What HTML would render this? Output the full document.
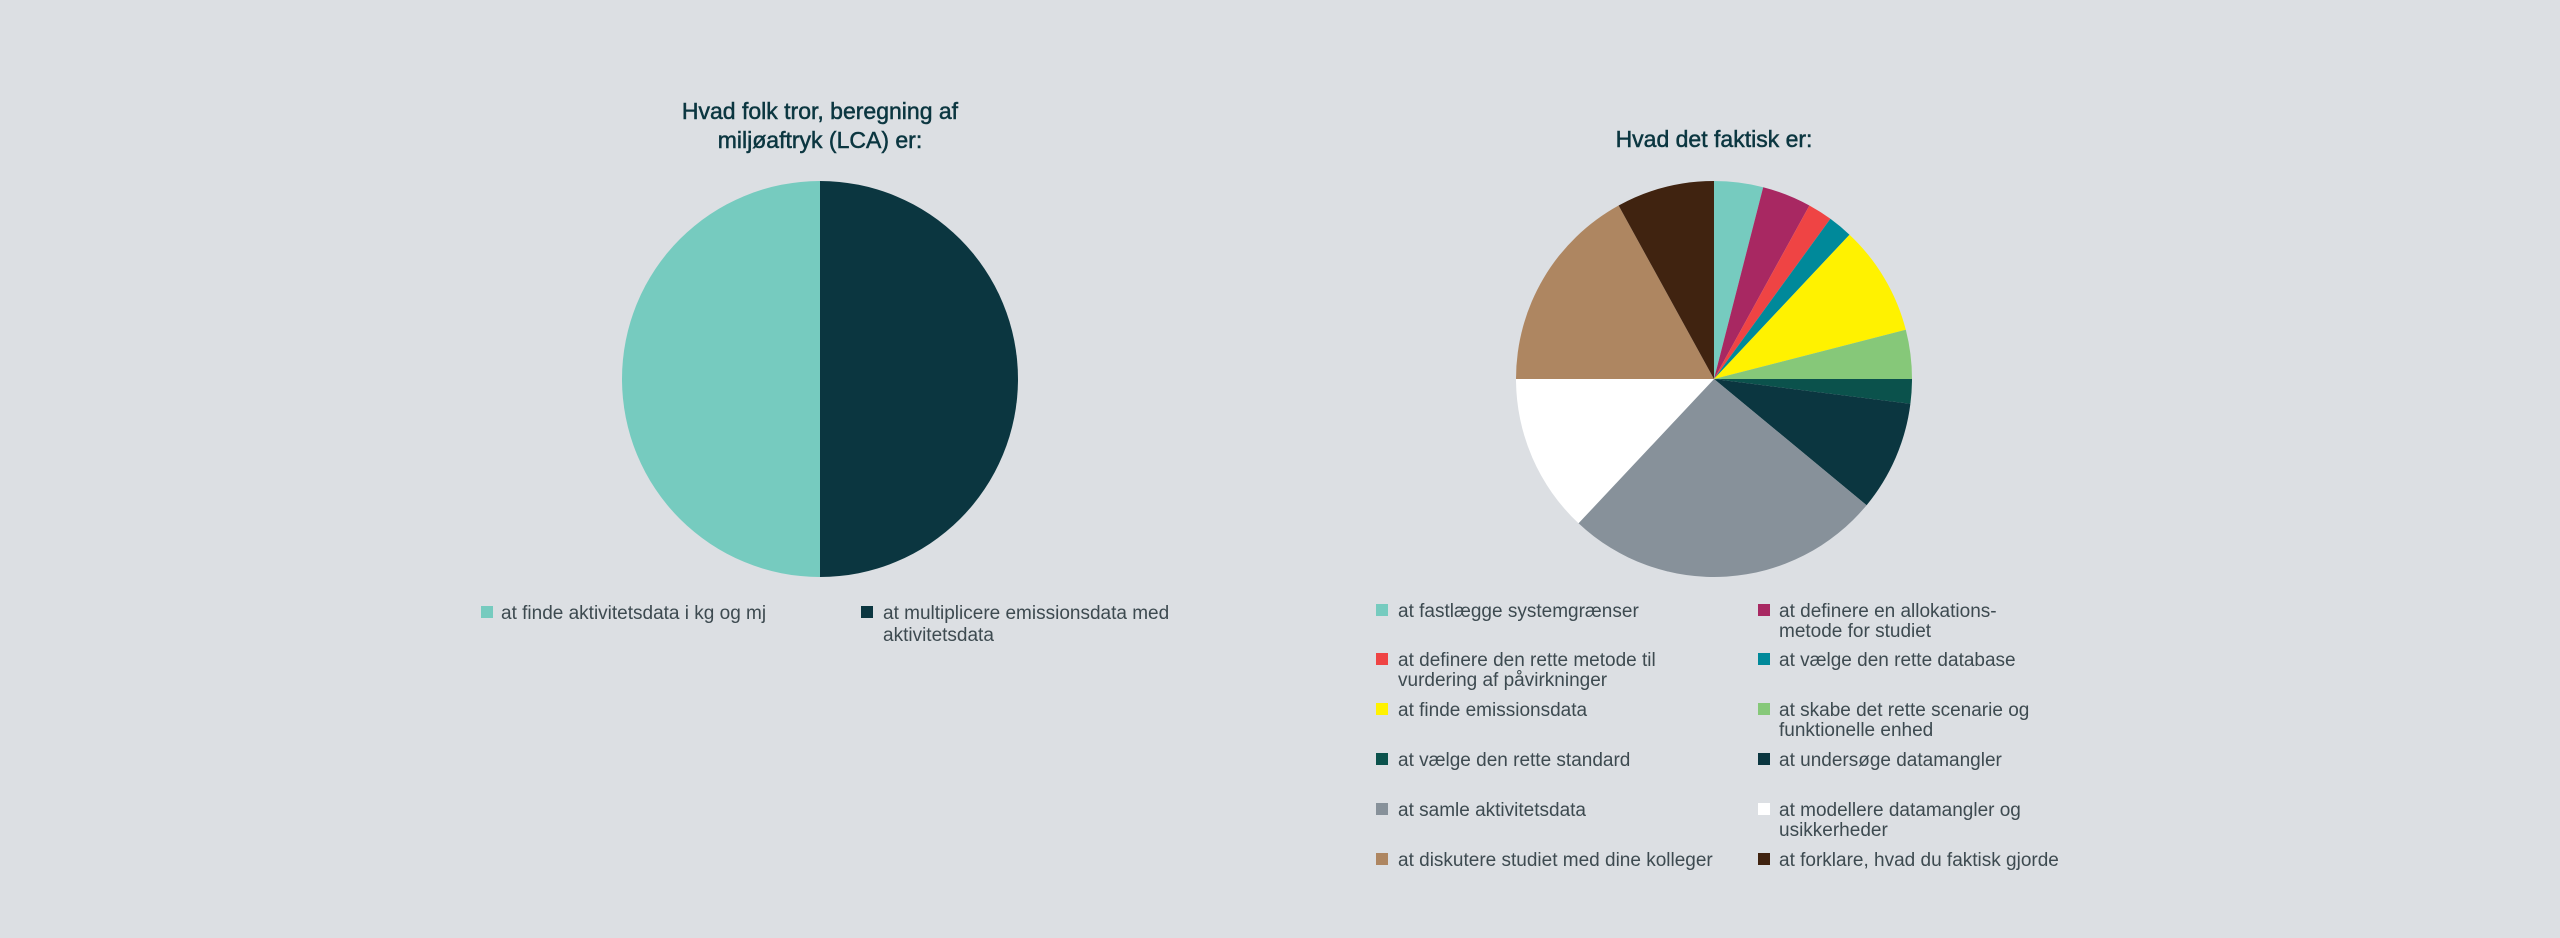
<!DOCTYPE html>
<html><head><meta charset="utf-8"><style>
html,body{margin:0;padding:0;background:#dcdfe3;}
svg{display:block;}
.t{font-family:"Liberation Sans",sans-serif;font-size:23px;fill:#0b3640;stroke:#0b3640;stroke-width:0.5px;text-anchor:middle;}
.l{font-family:"Liberation Sans",sans-serif;font-size:19px;fill:#3d4a50;}
</style></head><body>
<svg width="2560" height="938" viewBox="0 0 2560 938" xmlns="http://www.w3.org/2000/svg">
<rect width="2560" height="938" fill="#dcdfe3"/>
<text class="t" x="820" y="119">Hvad folk tror, beregning af</text>
<text class="t" x="820" y="148">miljøaftryk (LCA) er:</text>
<path d="M820,379 L820,181 A198,198 0 0,1 820,577 Z" fill="#0b3640"/>
<path d="M820,379 L820,577 A198,198 0 0,1 820,181 Z" fill="#76cbbf"/>
<rect x="481" y="606" width="12" height="12" fill="#76cbbf"/>
<text class="l" x="501" y="619">at finde aktivitetsdata i kg og mj</text>
<rect x="861" y="606" width="12" height="12" fill="#0b3640"/>
<text class="l" x="883" y="619">at multiplicere emissionsdata med</text>
<text class="l" x="883" y="641">aktivitetsdata</text>

<text class="t" x="1714" y="147">Hvad det faktisk er:</text>
<g>
<path d="M1714,379 L1714,181 A198,198 0 0,1 1763.2,187.2 Z" fill="#76cbbf"/>
<path d="M1714,379 L1763.2,187.2 A198,198 0 0,1 1809.4,205.5 Z" fill="#a82862"/>
<path d="M1714,379 L1809.4,205.5 A198,198 0 0,1 1830.4,218.8 Z" fill="#ef4444"/>
<path d="M1714,379 L1830.4,218.8 A198,198 0 0,1 1849.5,234.7 Z" fill="#00899a"/>
<path d="M1714,379 L1849.5,234.7 A198,198 0 0,1 1905.8,329.8 Z" fill="#fff200"/>
<path d="M1714,379 L1905.8,329.8 A198,198 0 0,1 1912,379 Z" fill="#86c879"/>
<path d="M1714,379 L1912,379 A198,198 0 0,1 1910.4,403.8 Z" fill="#0b524c"/>
<path d="M1714,379 L1910.4,403.8 A198,198 0 0,1 1866.6,505.2 Z" fill="#0b3640"/>
<path d="M1714,379 L1866.6,505.2 A198,198 0 0,1 1578.5,523.3 Z" fill="#87919a"/>
<path d="M1714,379 L1578.5,523.3 A198,198 0 0,1 1516,379 Z" fill="#ffffff"/>
<path d="M1714,379 L1516,379 A198,198 0 0,1 1618.6,205.5 Z" fill="#ae8661"/>
<path d="M1714,379 L1618.6,205.5 A198,198 0 0,1 1714,181 Z" fill="#402310"/>
</g>

<rect x="1376" y="604" width="12" height="12" fill="#76cbbf"/>
<text class="l" x="1398" y="617">at fastlægge systemgrænser</text>
<rect x="1758" y="604" width="12" height="12" fill="#a82862"/>
<text class="l" x="1779" y="617">at definere en allokations-</text>
<text class="l" x="1779" y="637">metode for studiet</text>

<rect x="1376" y="653" width="12" height="12" fill="#ef4444"/>
<text class="l" x="1398" y="666">at definere den rette metode til</text>
<text class="l" x="1398" y="686">vurdering af påvirkninger</text>
<rect x="1758" y="653" width="12" height="12" fill="#00899a"/>
<text class="l" x="1779" y="666">at vælge den rette database</text>

<rect x="1376" y="703" width="12" height="12" fill="#fff200"/>
<text class="l" x="1398" y="716">at finde emissionsdata</text>
<rect x="1758" y="703" width="12" height="12" fill="#86c879"/>
<text class="l" x="1779" y="716">at skabe det rette scenarie og</text>
<text class="l" x="1779" y="736">funktionelle enhed</text>

<rect x="1376" y="753" width="12" height="12" fill="#0b524c"/>
<text class="l" x="1398" y="766">at vælge den rette standard</text>
<rect x="1758" y="753" width="12" height="12" fill="#0b3640"/>
<text class="l" x="1779" y="766">at undersøge datamangler</text>

<rect x="1376" y="803" width="12" height="12" fill="#87919a"/>
<text class="l" x="1398" y="816">at samle aktivitetsdata</text>
<rect x="1758" y="803" width="12" height="12" fill="#ffffff"/>
<text class="l" x="1779" y="816">at modellere datamangler og</text>
<text class="l" x="1779" y="836">usikkerheder</text>

<rect x="1376" y="853" width="12" height="12" fill="#ae8661"/>
<text class="l" x="1398" y="866">at diskutere studiet med dine kolleger</text>
<rect x="1758" y="853" width="12" height="12" fill="#402310"/>
<text class="l" x="1779" y="866">at forklare, hvad du faktisk gjorde</text>
</svg>
</body></html>
